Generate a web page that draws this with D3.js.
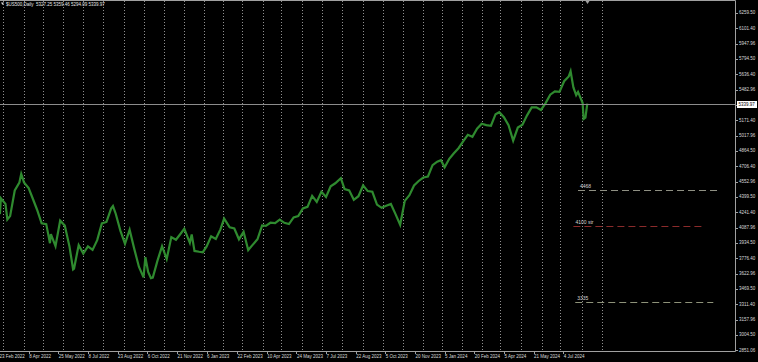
<!DOCTYPE html>
<html>
<head>
<meta charset="utf-8">
<script src="https://cdn.jsdelivr.net/npm/d3@7"></script>
<style>
html, body { margin: 0; padding: 0; background: #000; }
svg { display: block; }
text { font-family: "Liberation Sans", Arial, sans-serif; }
</style>
</head>
<body>
<svg id="chart"></svg>
<script>
// chart header
const symbolName = '$US500,Daily';
const lastBar = [5327.25, 5359.46, 5294.09, 5339.97]; // open high low close

// closes (weekly, plus a few turning points)
const closeDates = [
  '2022-02-18','2022-02-24','2022-02-25','2022-03-04','2022-03-08','2022-03-11','2022-03-18','2022-03-25','2022-03-29',
  '2022-04-01','2022-04-08','2022-04-14','2022-04-22','2022-04-29','2022-05-06','2022-05-12','2022-05-13','2022-05-20',
  '2022-05-27','2022-06-03','2022-06-10','2022-06-16','2022-06-17','2022-06-24','2022-07-01','2022-07-08','2022-07-15',
  '2022-07-22','2022-07-29','2022-08-05','2022-08-12','2022-08-16','2022-08-19','2022-08-26','2022-09-02','2022-09-09',
  '2022-09-16','2022-09-23','2022-09-30','2022-10-04','2022-10-07','2022-10-12','2022-10-14','2022-10-21','2022-10-28',
  '2022-11-04','2022-11-11','2022-11-18','2022-11-25','2022-12-01','2022-12-09','2022-12-13','2022-12-16','2022-12-23',
  '2022-12-30','2023-01-06','2023-01-13','2023-01-20','2023-01-27','2023-02-02','2023-02-10','2023-02-17','2023-02-24',
  '2023-03-03','2023-03-10','2023-03-17','2023-03-24','2023-03-31','2023-04-06','2023-04-14','2023-04-21','2023-04-28',
  '2023-05-05','2023-05-12','2023-05-19','2023-05-26','2023-06-02','2023-06-09','2023-06-16','2023-06-23','2023-06-30',
  '2023-07-07','2023-07-14','2023-07-21','2023-07-31','2023-08-04','2023-08-11','2023-08-18','2023-08-25','2023-09-01',
  '2023-09-08','2023-09-15','2023-09-22','2023-09-29','2023-10-06','2023-10-13','2023-10-20','2023-10-27','2023-11-03',
  '2023-11-10','2023-11-17','2023-11-24','2023-12-01','2023-12-08','2023-12-15','2023-12-22','2023-12-29','2024-01-05',
  '2024-01-12','2024-01-19','2024-01-26','2024-02-02','2024-02-09','2024-02-16','2024-02-23','2024-03-01','2024-03-08',
  '2024-03-15','2024-03-22','2024-03-28','2024-04-05','2024-04-12','2024-04-19','2024-04-26','2024-05-03','2024-05-10',
  '2024-05-17','2024-05-24','2024-05-31','2024-06-07','2024-06-14','2024-06-21','2024-06-28','2024-07-05','2024-07-12',
  '2024-07-16','2024-07-19','2024-07-24','2024-07-26','2024-08-02','2024-08-05','2024-08-07','2024-08-09'
];
const closeValues = [
  4348, 4225, 4384, 4328, 4170, 4204, 4463, 4543, 4631,
  4545, 4488, 4392, 4271, 4131, 4123, 3930, 4023, 3901,
  4158, 4108, 3900, 3666, 3674, 3911, 3825, 3899, 3863,
  3961, 4130, 4145, 4280, 4305, 4228, 4057, 3924, 4067,
  3873, 3693, 3585, 3790, 3639, 3577, 3583, 3752, 3901,
  3770, 3992, 3965, 4026, 4076, 3934, 4019, 3852, 3844,
  3839, 3895, 3999, 3972, 4070, 4179, 4090, 4079, 3970,
  4045, 3861, 3916, 3970, 4109, 4105, 4137, 4133, 4169,
  4136, 4124, 4191, 4205, 4282, 4298, 4409, 4348, 4450,
  4398, 4505, 4536, 4588, 4478, 4464, 4369, 4405, 4515,
  4457, 4450, 4320, 4288, 4308, 4327, 4224, 4117, 4358,
  4415, 4514, 4559, 4594, 4604, 4719, 4754, 4769, 4697,
  4783, 4839, 4890, 4958, 5026, 5005, 5088, 5137, 5123,
  5117, 5234, 5254, 5204, 5123, 4967, 5099, 5127, 5222,
  5303, 5304, 5277, 5346, 5431, 5464, 5460, 5567, 5615,
  5667, 5505, 5427, 5459, 5346, 5186, 5199, 5339.97
];

// right axis labels
const priceTicks = [6259.50, 6101.40, 5947.96, 5794.50, 5636.40, 5482.96, 5329.50, 5171.40, 5017.96,
  4864.50, 4706.40, 4552.96, 4399.50, 4241.40, 4087.96, 3934.50, 3776.40, 3622.96, 3469.50,
  3311.40, 3157.96, 3004.50, 2851.06];

// bottom axis labels
const dateTicks = ['2022-02-23','2022-04-08','2022-05-25','2022-07-08','2022-08-23','2022-10-06','2022-11-21',
  '2023-01-06','2023-02-22','2023-04-10','2023-05-24','2023-07-07','2023-08-22','2023-10-05','2023-11-20',
  '2024-01-05','2024-02-20','2024-04-05','2024-05-21','2024-07-04'];

// days with no bar
const holidays = ['2022-04-15','2022-12-26','2023-01-02','2023-04-07','2023-12-25','2024-01-01','2024-03-29',
  '2024-12-25','2025-01-01'];

// horizontal levels drawn on the chart
const levelValues = [4468, 4100, 3335];
const levelNames = ['4468', '4100 str', '3335'];
const levelFrom = ['2024-07-26', '2024-07-19', '2024-07-23'];
const levelTo = ['2025-02-26', '2025-02-06', '2025-02-19'];
const levelColors = ['#8f9083', '#8b2b2b', '#8e9279'];

const width = 758, height = 362;
const plotRight = 735, plotTop = 1, plotBottom = 351;
const fontSize = 4.5;

const fmt = d3.utcFormat('%Y-%m-%d');
const parse = d3.utcParse('%Y-%m-%d');
const labelFmt = d3.utcFormat('%-d %b %Y');

const svg = d3.select('#chart').attr('width', width).attr('height', height);
svg.append('rect').attr('width', width).attr('height', height).attr('fill', '#000');

// trading bars: weekdays minus holidays
const holidaySet = new Set(holidays);
const bars = d3.utcDay.range(parse('2022-02-01'), parse('2025-04-01'))
  .filter(d => d.getUTCDay() % 6 !== 0 && !holidaySet.has(fmt(d)));
const barIndex = new Map(bars.map((d, i) => [fmt(d), i]));
const idx = s => barIndex.get(s);

const x = d3.scaleLinear()
  .domain([idx(dateTicks[0]), idx(dateTicks[dateTicks.length - 1])])
  .range([-1, 563.2]);

const y = d3.scaleLinear()
  .domain([2851.06, 6259.50])
  .range([350, 12.7]);

svg.append('clipPath').attr('id', 'plot')
  .append('rect').attr('x', 0).attr('y', plotTop).attr('width', plotRight).attr('height', plotBottom - plotTop);

// month grid
const monthStarts = d3.groups(bars, d => d3.utcMonth(d).getTime())
  .map(g => g[1][0])
  .filter(d => d > parse('2022-02-23') && d < parse('2024-09-30'));

svg.append('g').selectAll('line')
  .data(monthStarts)
  .join('line')
  .attr('x1', d => Math.round(x(idx(fmt(d)))) + 0.5)
  .attr('x2', d => Math.round(x(idx(fmt(d)))) + 0.5)
  .attr('y1', plotTop)
  .attr('y2', plotBottom)
  .attr('stroke', '#909090')
  .attr('stroke-width', 1)
  .attr('stroke-dasharray', '1,2');

// price line
const line = d3.line()
  .x((d, i) => x(idx(closeDates[i])))
  .y(d => y(d))
  .curve(d3.curveLinear);

svg.append('path')
  .datum(closeValues)
  .attr('clip-path', 'url(#plot)')
  .attr('d', line)
  .attr('fill', 'none')
  .attr('stroke', '#2f8a2f')
  .attr('stroke-width', 2.2)
  .attr('stroke-linejoin', 'miter');

// current price line
const lastClose = lastBar[3];
svg.append('line')
  .attr('x1', 0).attr('x2', plotRight)
  .attr('y1', Math.round(y(lastClose)) + 0.5).attr('y2', Math.round(y(lastClose)) + 0.5)
  .attr('stroke', '#8c8c8c');

// levels
const levels = svg.append('g');
levelValues.forEach((v, i) => {
  const ly = Math.round(y(v)) + 0.5;
  const x1 = x(idx(levelFrom[i]));
  levels.append('line')
    .attr('x1', x1).attr('x2', x(idx(levelTo[i])))
    .attr('y1', ly).attr('y2', ly)
    .attr('stroke', levelColors[i])
    .attr('stroke-width', 1)
    .attr('stroke-dasharray', '7,4');
  levels.append('text')
    .attr('x', x1 + 2).attr('y', ly - 3)
    .attr('font-size', fontSize + 0.5)
    .attr('fill', '#d2d2d2')
    .text(levelNames[i]);
});

// frame
svg.append('path')
  .attr('d', `M0,0.5H${plotRight + 0.5}V${plotBottom + 0.5}H0`)
  .attr('fill', 'none')
  .attr('stroke', '#a0a0a0');

// shift marker
const shiftX = Math.round(x(idx('2024-08-09'))) + 0.5;
svg.append('path')
  .attr('d', `M${shiftX - 2},1L${shiftX + 2},1L${shiftX},4Z`)
  .attr('fill', '#a0a0a0');

// right axis
const yAxis = svg.append('g');
yAxis.selectAll('line')
  .data(priceTicks)
  .join('line')
  .attr('x1', plotRight).attr('x2', plotRight + 3)
  .attr('y1', d => Math.round(y(d)) + 0.5).attr('y2', d => Math.round(y(d)) + 0.5)
  .attr('stroke', '#a0a0a0');
yAxis.selectAll('text')
  .data(priceTicks)
  .join('text')
  .attr('x', plotRight + 4)
  .attr('y', d => y(d) + 1.6)
  .attr('font-size', fontSize)
  .attr('fill', '#dadada')
  .text(d => d.toFixed(2));

// current price box
const boxY = Math.round(y(lastClose));
svg.append('rect')
  .attr('x', plotRight + 2).attr('y', boxY - 3)
  .attr('width', 20).attr('height', 7)
  .attr('fill', '#ffffff');
svg.append('text')
  .attr('x', plotRight + 3.5).attr('y', boxY + 2)
  .attr('font-size', fontSize)
  .attr('fill', '#000')
  .text(lastClose.toFixed(2));

// bottom axis
const xAxis = svg.append('g');
xAxis.selectAll('line')
  .data(dateTicks)
  .join('line')
  .attr('x1', d => Math.round(x(idx(d))) + 0.5).attr('x2', d => Math.round(x(idx(d))) + 0.5)
  .attr('y1', plotBottom).attr('y2', plotBottom + 3)
  .attr('stroke', '#a0a0a0');
xAxis.selectAll('text')
  .data(dateTicks)
  .join('text')
  .attr('x', d => x(idx(d)) + 0.5)
  .attr('y', plotBottom + 6.5)
  .attr('font-size', fontSize)
  .attr('fill', '#dadada')
  .text(d => labelFmt(parse(d)));

// header
svg.append('path')
  .attr('d', 'M1,2.5L4,2.5L2.5,5Z')
  .attr('fill', '#d6d6d6');
svg.append('text')
  .attr('x', 6).attr('y', 5.6)
  .attr('font-size', fontSize)
  .attr('fill', '#e6e6e6')
  .attr('xml:space', 'preserve')
  .text(symbolName + '  ' + lastBar.map(v => v.toFixed(2)).join(' '));
</script>
</body>
</html>
